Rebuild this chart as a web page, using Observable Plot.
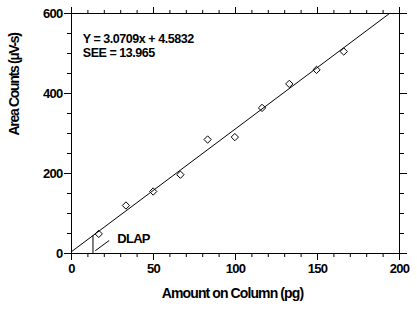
<!DOCTYPE html>
<html>
<head>
<meta charset="utf-8">
<script src="https://cdn.jsdelivr.net/npm/d3@7"></script>
<script src="https://cdn.jsdelivr.net/npm/@observablehq/plot@0.6"></script>
<style>
  html, body { margin: 0; padding: 0; background: #fff; }
</style>
</head>
<body>
<div id="chart"></div>
<script>
const amounts = [16.6, 33.2, 49.8, 66.4, 83.0, 99.6, 116.2, 132.8, 149.4, 166.0];
const areaCounts = [49, 120, 155, 197, 285, 291, 364, 424, 459, 505];
const slope = 3.0709;
const intercept = 4.5832;
const fitX = [0, (600 - intercept) / slope];
const dlapX = 13.1;
const pointerX = [14.7, 22.8];
const pointerY = [7.5, 32];
const xMajor = [0, 50, 100, 150, 200];
const xMinor = d3.range(0, 201, 10);
const yMajor = [0, 200, 400, 600];
const yMinor = d3.range(0, 601, 50);
const eqLines = ["Y = 3.0709x + 4.5832", "SEE = 13.965"];

const pts = amounts.map((x, i) => ({x, y: areaCounts[i]}));
const fit = fitX.map(x => ({x, y: slope * x + intercept}));
const pointer = pointerX.map((x, i) => ({x, y: pointerY[i]}));

const font = "'Liberation Sans', Arial, sans-serif";
const chart = Plot.plot({
  width: 417,
  height: 311,
  marginLeft: 71,
  marginRight: 18,
  marginTop: 13,
  marginBottom: 58,
  style: {fontFamily: font, fontSize: "13px", fontWeight: "bold", letterSpacing: "-0.7px", color: "#000", background: "#fff", overflow: "visible"},
  x: {domain: [0, 200]},
  y: {domain: [0, 600]},
  marks: [
    Plot.frame({stroke: "#000"}),
    Plot.axisX({ticks: xMinor, tickSize: 4, text: null, label: null}),
    Plot.axisX({ticks: xMajor, tickSize: 7, tickPadding: 3, label: null, fontSize: 13}),
    Plot.axisX({anchor: "top", ticks: xMinor, tickSize: 4, text: null, label: null}),
    Plot.axisX({anchor: "top", ticks: xMajor, tickSize: 7, text: null, label: null}),
    Plot.axisY({ticks: yMinor, tickSize: 4, text: null, label: null}),
    Plot.axisY({ticks: yMajor, tickSize: 7, tickPadding: 2, label: null, fontSize: 13}),
    Plot.axisY({anchor: "right", ticks: yMinor, tickSize: 4, text: null, label: null}),
    Plot.axisY({anchor: "right", ticks: yMajor, tickSize: 7, text: null, label: null}),
    Plot.line(fit, {x: "x", y: "y", stroke: "#000", strokeWidth: 1}),
    Plot.ruleX([dlapX], {y1: 0, y2: slope * dlapX + intercept, stroke: "#000", strokeWidth: 1}),
    Plot.line(pointer, {x: "x", y: "y", stroke: "#000", strokeWidth: 1}),
    Plot.dot(pts, {x: "x", y: "y", symbol: "diamond2", r: 3.3, stroke: "#000", fill: "none", strokeWidth: 1}),
    Plot.text(["DLAP"], {x: 27.9, y: 37.5, textAnchor: "start", fontSize: 13}),
    Plot.text([eqLines[0]], {x: 6.9, y: 537, textAnchor: "start", fontSize: 12.5}),
    Plot.text([eqLines[1]], {x: 6.9, y: 500.5, textAnchor: "start", fontSize: 12.5}),
    Plot.text(["Amount on Column (pg)"], {frameAnchor: "bottom", dx: -3, dy: 44, fontSize: 14}),
    Plot.text(["Area Counts (µV-s)"], {frameAnchor: "left", dx: -57, dy: 2, rotate: -90, fontSize: 14})
  ]
});
const sel = d3.select(chart).selectAll("text");
sel.filter(function() { return this.textContent === "Amount on Column (pg)"; }).style("letter-spacing", "-0.9px");
sel.filter(function() { return this.textContent === "Area Counts (µV-s)"; }).style("letter-spacing", "-1.3px");
sel.filter(function() { return eqLines.includes(this.textContent); }).style("letter-spacing", "-0.46px");
document.getElementById("chart").appendChild(chart);
</script>
</body>
</html>
